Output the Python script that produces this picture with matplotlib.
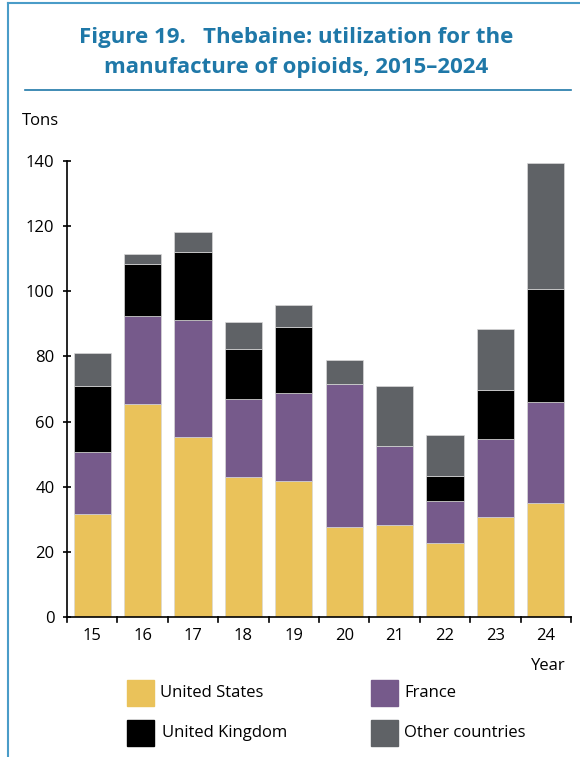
import matplotlib.pyplot as plt
import numpy as np
from matplotlib.patches import Rectangle
from matplotlib.lines import Line2D

years = ["15", "16", "17", "18", "19", "20", "21", "22", "23", "24"]
united_states = [31.6, 65.4, 55.3, 43.0, 41.8, 27.6, 28.2, 22.7, 30.7, 35.0]
france = [19.1, 27.0, 35.9, 23.9, 27.0, 43.9, 24.3, 12.9, 24.0, 31.0]
united_kingdom = [20.2, 16.0, 20.9, 15.4, 20.2, 0.0, 0.0, 7.7, 15.0, 34.7]
other_countries = [10.2, 3.1, 6.1, 8.3, 6.8, 7.4, 18.4, 12.6, 18.7, 38.7]

series = [("United States", united_states, "#EAC25A"),
          ("France", france, "#765A8B"),
          ("United Kingdom", united_kingdom, "#000000"),
          ("Other countries", other_countries, "#5F6266")]

W, H = 580, 757
fig = plt.figure(figsize=(W / 100, H / 100), dpi=100)
fig.patch.set_facecolor("white")
FONT = "Open Sans"
blue = "#1F78A8"

# frame lines
fig.add_artist(Line2D([8 / W, 8 / W], [0, 1 - 3 / H], color="#4A9CC8", lw=1.5))
fig.add_artist(Line2D([8 / W, 1], [1 - 3 / H, 1 - 3 / H], color="#4A9CC8", lw=1.5))
fig.add_artist(Line2D([25 / W, 571 / W], [1 - 90 / H, 1 - 90 / H], color=blue, lw=1.2))

fig.text(296 / W, 1 - 38 / H, "Figure 19.   Thebaine: utilization for the",
         ha="center", va="center", fontsize=16, fontweight="bold", color=blue, family=FONT)
fig.text(296 / W, 1 - 68 / H, "manufacture of opioids, 2015\u20132024",
         ha="center", va="center", fontsize=16, fontweight="bold", color=blue, family=FONT)

ax = fig.add_axes([67 / W, 1 - 617 / H, (571 - 67) / W, (617 - 161) / H])
x = np.arange(len(years))
bottom = np.zeros(len(years))
for name, vals, col in series:
    ax.bar(x, vals, bottom=bottom, width=0.74, color=col, edgecolor="#d8d8d8",
           linewidth=0.5, label=name)
    bottom += np.array(vals)

ax.set_xlim(-0.5, len(years) - 0.5)
ax.set_ylim(0, 140)
ax.set_yticks(range(0, 141, 20))
ax.set_yticklabels([str(v) for v in range(0, 141, 20)], family=FONT, fontsize=12)
ax.set_xticks(x)
ax.set_xticklabels(years, family=FONT, fontsize=12)
ax.tick_params(axis="x", length=0, pad=8)
ax.tick_params(axis="y", length=6, width=1.2, direction="inout", pad=6)
for b in np.arange(-0.5, len(years), 1.0):
    ax.plot([b, b], [0, -1.6], color="black", lw=1.2, clip_on=False)
for s in ["top", "right"]:
    ax.spines[s].set_visible(False)
ax.spines["left"].set_linewidth(1.2)
ax.spines["bottom"].set_linewidth(1.2)

fig.text(22 / W, 1 - 121 / H, "Tons", ha="left", va="center", fontsize=12, family=FONT)
fig.text(566 / W, 1 - 666 / H, "Year", ha="right", va="center", fontsize=12, family=FONT)

# legend
leg_pos = [(127, 680, 160), (371, 680, 404), (127, 720, 162), (371, 720, 404)]
for (name, vals, col), (px, py, tx) in zip(series, leg_pos):
    fig.add_artist(Rectangle((px / W, 1 - (py + 26) / H), 27 / W, 26 / H,
                             transform=fig.transFigure, color=col))
    fig.text(tx / W, 1 - (py + 13) / H, name, ha="left", va="center",
             fontsize=12, family=FONT)

fig.savefig("out.png", dpi=100)
